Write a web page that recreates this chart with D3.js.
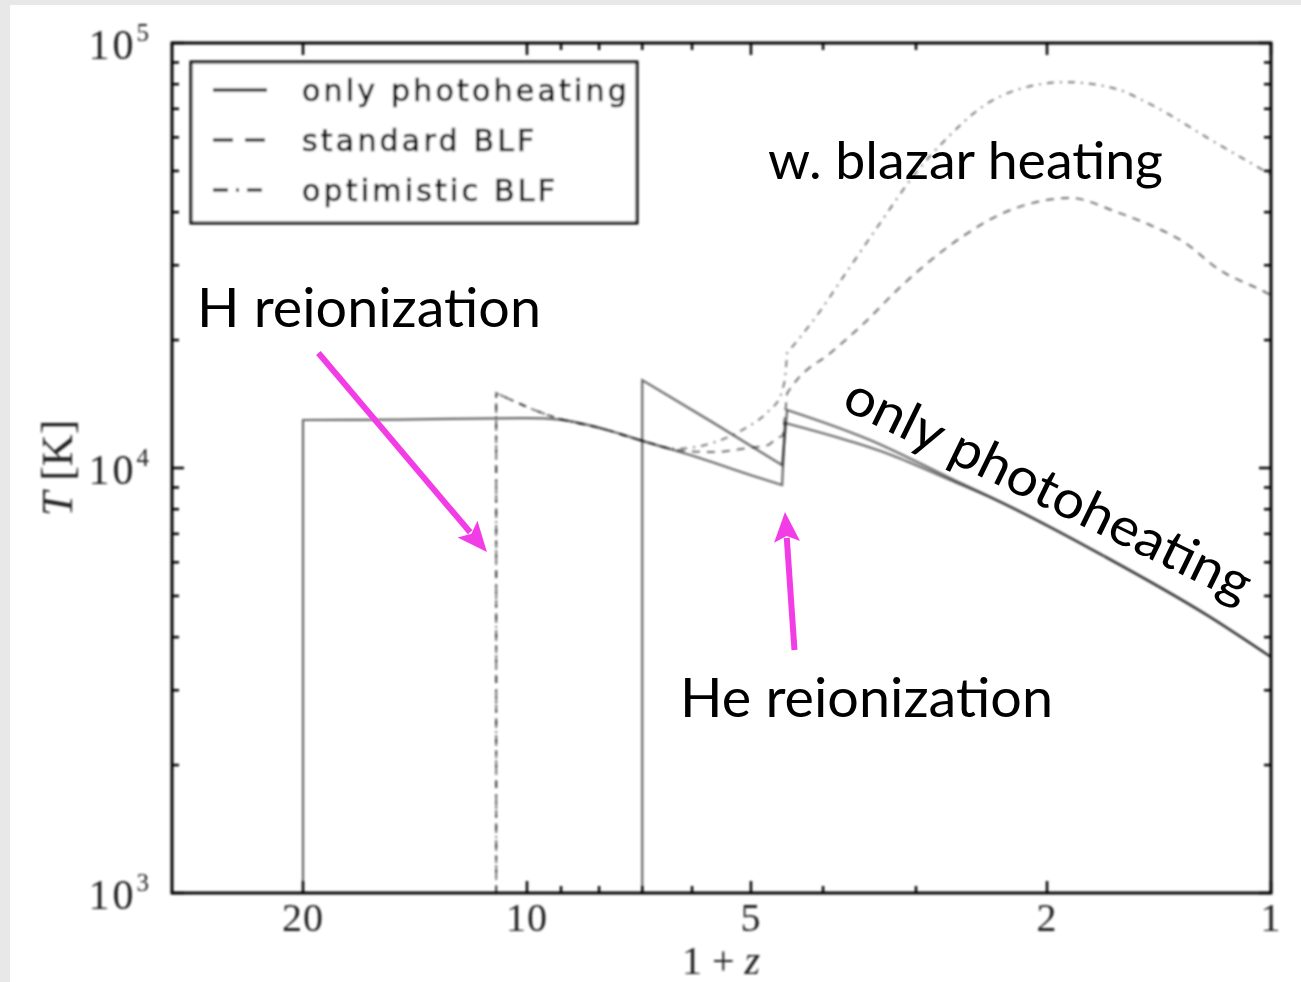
<!DOCTYPE html>
<html>
<head>
<meta charset="utf-8">
<script src="https://cdn.jsdelivr.net/npm/d3@7"></script>
<style>
  html, body { margin: 0; padding: 0; background: #e8e8e8; }
  svg { display: block; }
</style>
</head>
<body>
<svg id="chart" width="1301" height="982"></svg>
<script>
// ---- axis ticks -------------------------------------------------------
const xMajorTicks = [20, 10, 5, 2, 1];
const xMinorTicks = [9, 8, 7, 6, 4, 3];
const yMajorTicks = [1e3, 1e4, 1e5];
const yMinorTicks = [2e3, 3e3, 4e3, 5e3, 6e3, 7e3, 8e3, 9e3,
                     2e4, 3e4, 4e4, 5e4, 6e4, 7e4, 8e4, 9e4];
const yTickExponents = ["3", "4", "5"];

// ---- legend -----------------------------------------------------------
const legendLabels = ["only photoheating", "standard BLF", "optimistic BLF"];

// ---- temperature histories (1+z, T in K) ------------------------------
// photoheating only, hydrogen reionized at 1+z = 20
const photoEarlyZ = [20, 20, 14.8, 12.7, 10, 9.03, 7.98, 6.98, 5.86, 5.01, 4.54,
                     4.50, 3.24, 2.70, 2.34, 1.687, 1.215, 1];
const photoEarlyT = [1000, 12970, 13000, 13050, 13100, 13000, 12420, 11570, 10560, 9630, 9120,
                     12760, 10730, 9370, 8410, 6240, 4490, 3590];

// photoheating only, hydrogen reionized at 1+z = 7
const photoLateZ = [7, 7, 5.64, 4.54, 4.47, 3.46, 2.70, 2.34, 1.687, 1.215, 1];
const photoLateT = [1000, 16100, 12830, 10160, 13690, 11640, 9470, 8410, 6240, 4490, 3590];

// standard blazar luminosity function, reionized at 1+z = 11
const blfStdZ = [11, 11, 9.03, 7.98, 6.98, 6.23, 5.62, 5.06, 4.74, 4.61, 4.53,
                 4.47, 4.34, 3.91, 3.52, 3.17, 2.855, 2.578, 2.32, 2.096, 1.863,
                 1.611, 1.454, 1.309, 1.178, 1.019, 1];
const blfStdT = [1000, 15010, 13040, 12420, 11570, 11000, 10900, 11140, 11330, 11760, 11900,
                 15010, 16100, 18650, 21950, 26370, 31000, 35350, 39400, 42000, 43200,
                 40000, 37300, 34000, 29400, 25950, 25500];

// optimistic blazar luminosity function, reionized at 1+z = 11
const blfOptZ = [11, 11, 9.03, 7.98, 6.98, 6.3, 5.64, 5.14, 4.72, 4.57, 4.50,
                 4.47, 4.27, 4.11, 3.72, 3.345, 3.01, 2.718, 2.446, 2.20, 1.886,
                 1.611, 1.454, 1.178, 1];
const blfOptT = [1000, 15010, 13040, 12420, 11570, 11100, 11450, 12280, 13690, 14690, 16100,
                 18650, 20560, 22400, 28900, 37900, 49200, 60000, 70700, 77500, 80900,
                 77900, 71800, 57800, 49000];

// ---- annotation anchors (1+z, T) ---------------------------------------
const hArrowFrom = [19.07, 18650];
const hArrowTo   = [11.32, 6340];
const heArrowFrom = [4.37, 3730];
const heArrowTo   = [4.50, 7880];

// ---- layout -----------------------------------------------------------
const svg = d3.select("#chart");
const W = 1301, H = 982;
const plot = { left: 172, right: 1271, top: 43, bottom: 893 };

const x = d3.scaleLog().domain([30, 1]).range([plot.left, plot.right]);
const y = d3.scaleLog().domain([1e3, 1e5]).range([plot.bottom, plot.top]);

// white page panel
svg.append("rect").attr("x", 10).attr("y", 5).attr("width", W - 10).attr("height", H - 5)
  .attr("fill", "#ffffff");

const defs = svg.append("defs");
defs.append("filter").attr("id", "soft")
  .attr("filterUnits", "userSpaceOnUse")
  .attr("x", 0).attr("y", 0).attr("width", W).attr("height", H)
  .append("feGaussianBlur").attr("stdDeviation", 0.8);
defs.append("clipPath").attr("id", "plotClip")
  .append("rect").attr("x", plot.left).attr("y", plot.top)
  .attr("width", plot.right - plot.left).attr("height", plot.bottom - plot.top);

const chart = svg.append("g").attr("filter", "url(#soft)");

// ---- curves -----------------------------------------------------------
// Reionization jumps (near-vertical steps) are drawn as straight pieces;
// the runs between them are smoothed when they hold enough points.
const zip = (zs, ts) => zs.map((z, i) => [z, ts[i]]);
function segmentedPath(data) {
  const isJump = (a, b) => {
    const dx = Math.abs(x(b[0]) - x(a[0])), dy = Math.abs(y(b[1]) - y(a[1]));
    return dy > 3 * dx + 5;
  };
  const pieces = [];
  let run = [data[0]];
  for (let i = 1; i < data.length; i++) {
    if (isJump(data[i - 1], data[i])) {
      if (run.length > 1) pieces.push(run);
      pieces.push([data[i - 1], data[i]]);
      run = [data[i]];
    } else {
      run.push(data[i]);
    }
  }
  if (run.length > 1) pieces.push(run);
  const smooth = d3.line().x(d => x(d[0])).y(d => y(d[1])).curve(d3.curveMonotoneX);
  const straight = d3.line().x(d => x(d[0])).y(d => y(d[1]));
  return pieces.map((s, k) => {
    const d = (s.length >= 5 ? smooth : straight)(s);
    return k === 0 ? d : d.replace(/^M/, "L");
  }).join("");
}

const curves = chart.append("g").attr("clip-path", "url(#plotClip)").attr("fill", "none");

curves.append("path").attr("d", segmentedPath(zip(blfOptZ, blfOptT)))
  .attr("stroke", "#000").attr("stroke-opacity", 0.5)
  .attr("stroke-width", 2).attr("stroke-dasharray", "7,6,2,6");

curves.append("path").attr("d", segmentedPath(zip(blfStdZ, blfStdT)))
  .attr("stroke", "#000").attr("stroke-opacity", 0.55)
  .attr("stroke-width", 2).attr("stroke-dasharray", "8,7");

[zip(photoEarlyZ, photoEarlyT), zip(photoLateZ, photoLateT)].forEach(data => {
  curves.append("path").attr("d", segmentedPath(data))
    .attr("stroke", "#000").attr("stroke-opacity", 0.6)
    .attr("stroke-width", 2.2);
});

// ---- frame and ticks --------------------------------------------------
chart.append("rect")
  .attr("x", plot.left).attr("y", plot.top)
  .attr("width", plot.right - plot.left).attr("height", plot.bottom - plot.top)
  .attr("fill", "none").attr("stroke", "#000").attr("stroke-width", 3);

const tickG = chart.append("g").attr("stroke", "#000").attr("stroke-width", 2.5);
const majorLen = 12, minorLen = 7;

function xTicks(vals, len) {
  vals.forEach(v => {
    const px = x(v);
    tickG.append("line").attr("x1", px).attr("x2", px)
      .attr("y1", plot.bottom).attr("y2", plot.bottom - len);
    tickG.append("line").attr("x1", px).attr("x2", px)
      .attr("y1", plot.top).attr("y2", plot.top + len);
  });
}
function yTicks(vals, len) {
  vals.forEach(v => {
    const py = y(v);
    tickG.append("line").attr("y1", py).attr("y2", py)
      .attr("x1", plot.left).attr("x2", plot.left + len);
    tickG.append("line").attr("y1", py).attr("y2", py)
      .attr("x1", plot.right).attr("x2", plot.right - len);
  });
}
xTicks(xMajorTicks, majorLen);
xTicks(xMinorTicks, minorLen);
yTicks(yMajorTicks, majorLen);
yTicks(yMinorTicks, minorLen);

// tick labels
const serif = "'Liberation Serif', 'DejaVu Serif', serif";
chart.append("g").selectAll("text").data(xMajorTicks).join("text")
  .attr("x", d => x(d)).attr("y", plot.bottom + 38)
  .attr("text-anchor", "middle")
  .attr("font-family", serif).attr("font-size", 40).attr("fill", "#222")
  .attr("letter-spacing", 1)
  .text(d => d);

const yLab = chart.append("g").selectAll("text").data(yMajorTicks).join("text")
  .attr("x", 149).attr("y", d => y(d) + 16)
  .attr("text-anchor", "end")
  .attr("font-family", serif).attr("font-size", 42).attr("fill", "#222");
yLab.append("tspan").attr("letter-spacing", 3).text("10");
yLab.append("tspan").attr("dy", -18).attr("font-size", 25)
  .text((d, i) => yTickExponents[i]);

// axis titles
const xTitle = chart.append("text")
  .attr("x", 721).attr("y", 974).attr("text-anchor", "middle")
  .attr("font-family", serif).attr("font-size", 40).attr("fill", "#222");
xTitle.append("tspan").text("1 + ");
xTitle.append("tspan").attr("font-style", "italic").text("z");

const yTitle = chart.append("text")
  .attr("transform", "translate(72," + y(1e4) + ") rotate(-90)")
  .attr("text-anchor", "middle")
  .attr("font-family", serif).attr("font-size", 44).attr("fill", "#222");
yTitle.append("tspan").attr("font-style", "italic").text("T");
yTitle.append("tspan").text(" [K]");

// ---- legend -----------------------------------------------------------
const legend = chart.append("g");
legend.append("rect").attr("x", 191).attr("y", 62).attr("width", 446).attr("height", 161)
  .attr("fill", "#fff").attr("stroke", "#000").attr("stroke-width", 3);
const legendDash = [null, "20,12", "15,8,3,8"];
legendLabels.forEach((lab, i) => {
  const ly = 90 + i * 50;
  legend.append("line").attr("x1", 213).attr("x2", 267).attr("y1", ly).attr("y2", ly)
    .attr("stroke", "#000").attr("stroke-width", 3.2)
    .attr("stroke-dasharray", legendDash[i]);
  legend.append("text").attr("x", 302).attr("y", ly + 11)
    .attr("font-family", "'DejaVu Sans', sans-serif").attr("font-size", 30)
    .attr("letter-spacing", 3.2).attr("fill", "#111")
    .attr("stroke", "#111").attr("stroke-width", 0.7)
    .text(lab);
});

// ---- annotations ------------------------------------------------------
const annoFont = "Lato, 'Open Sans', sans-serif";
const anno = svg.append("g").attr("font-family", annoFont).attr("fill", "#000");

anno.append("text").attr("x", 768).attr("y", 179).attr("font-size", 53)
  .attr("textLength", 395).attr("lengthAdjust", "spacingAndGlyphs")
  .text("w. blazar heating");
anno.append("text").attr("x", 197).attr("y", 327).attr("font-size", 54)
  .attr("textLength", 344).attr("lengthAdjust", "spacingAndGlyphs")
  .text("H reionization");
anno.append("text").attr("x", 680).attr("y", 717).attr("font-size", 54)
  .attr("textLength", 373).attr("lengthAdjust", "spacingAndGlyphs")
  .text("He reionization");
anno.append("text").attr("transform", "translate(840,408) rotate(26)").attr("font-size", 53)
  .attr("textLength", 446).attr("lengthAdjust", "spacingAndGlyphs")
  .text("only photoheating");

// magenta arrows
const magenta = "#f23de6";
function arrow(from, to) {
  const x0 = x(from[0]), y0 = y(from[1]), x1 = x(to[0]), y1 = y(to[1]);
  const dx = x1 - x0, dy = y1 - y0, len = Math.hypot(dx, dy);
  const ux = dx / len, uy = dy / len, headL = 30, headW = 13;
  const bx = x1 - ux * headL, by = y1 - uy * headL;
  svg.append("line").attr("x1", x0).attr("y1", y0).attr("x2", bx + ux * 4).attr("y2", by + uy * 4)
    .attr("stroke", magenta).attr("stroke-width", 6);
  svg.append("path")
    .attr("d", `M${x1},${y1}L${bx - uy * headW},${by + ux * headW}L${bx + ux * 6},${by + uy * 6}L${bx + uy * headW},${by - ux * headW}Z`)
    .attr("fill", magenta);
}
arrow(hArrowFrom, hArrowTo);
arrow(heArrowFrom, heArrowTo);
</script>
</body>
</html>
